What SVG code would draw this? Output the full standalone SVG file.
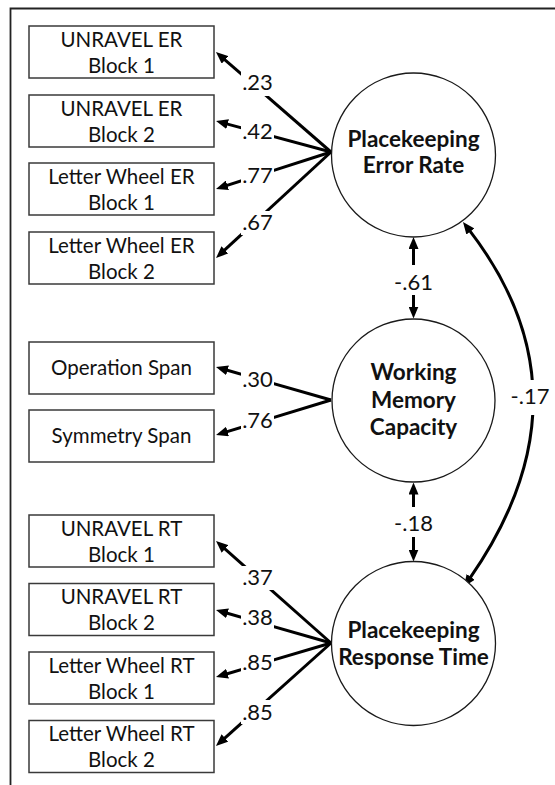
<svg xmlns="http://www.w3.org/2000/svg" width="555" height="785" viewBox="0 0 555 785">
<style>
.box{fill:#fff;stroke:#3a3a3a;stroke-width:1.5}
.lat{fill:#fff;stroke:#1a1a1a;stroke-width:1.3}
.bt{font-family:Lato,"Open Sans","Liberation Sans",sans-serif;font-size:20.5px;fill:#111;text-anchor:middle}
.ct{font-family:Lato,"Open Sans","Liberation Sans",sans-serif;font-size:22.5px;font-weight:bold;fill:#111;text-anchor:middle}
.lb{font-family:Lato,"Open Sans","Liberation Sans",sans-serif;font-size:22px;fill:#111;text-anchor:middle}
.ln{stroke:#000;stroke-width:3;fill:none}
.one{marker-end:url(#ah)}
.two{marker-start:url(#ah);marker-end:url(#ah)}
.bg{fill:#fff;stroke:none}
</style>
<defs>
<marker id="ah" viewBox="0 0 12 10" refX="2" refY="5" markerWidth="12" markerHeight="10" markerUnits="userSpaceOnUse" orient="auto-start-reverse">
<path d="M0,0 L12,5 L0,10 z" fill="#000"/>
</marker>
</defs>
<rect width="555" height="785" fill="#fff"/>
<path d="M10.5,785 V8.5 H555" fill="none" stroke="#222" stroke-width="1.8"/>

<g id="connectors">
<line class="ln one" x1="331" y1="152" x2="223.5" y2="58.6"/>
<line class="ln one" x1="331" y1="152" x2="225.7" y2="123.6"/>
<line class="ln one" x1="331" y1="152" x2="225.5" y2="185.9"/>
<line class="ln one" x1="331" y1="152" x2="223.4" y2="251.2"/>
<line class="ln one" x1="331" y1="400" x2="225.6" y2="369.8"/>
<line class="ln one" x1="331" y1="400" x2="225.6" y2="432.1"/>
<line class="ln one" x1="331" y1="643" x2="223.5" y2="547.6"/>
<line class="ln one" x1="331" y1="643" x2="225.6" y2="612.8"/>
<line class="ln one" x1="331" y1="643" x2="225.6" y2="674.2"/>
<line class="ln one" x1="331" y1="643" x2="223.4" y2="739.3"/>
<line class="ln two" x1="413.5" y1="247" x2="413.5" y2="308.5"/>
<line class="ln two" x1="413.5" y1="492.5" x2="413.5" y2="551.5"/>
<path class="ln two" d="M469.1,229.9 Q597,395.5 469.6,578.6"/>
<rect class="bg" x="241" y="71" width="33" height="25"/>
<text class="lb" x="257.5" y="90">.23</text>
<rect class="bg" x="241" y="120" width="33" height="24"/>
<text class="lb" x="257.5" y="139">.42</text>
<rect class="bg" x="241" y="164" width="33" height="24"/>
<text class="lb" x="257.5" y="183">.77</text>
<rect class="bg" x="241" y="211" width="33" height="24"/>
<text class="lb" x="257.5" y="230">.67</text>
<rect class="bg" x="241" y="368" width="33" height="24"/>
<text class="lb" x="257.5" y="387">.30</text>
<rect class="bg" x="241" y="409" width="33" height="24"/>
<text class="lb" x="257.5" y="428">.76</text>
<rect class="bg" x="241" y="566" width="33" height="24"/>
<text class="lb" x="257.5" y="585">.37</text>
<rect class="bg" x="241" y="606" width="33" height="24"/>
<text class="lb" x="257.5" y="625">.38</text>
<rect class="bg" x="241" y="651" width="33" height="24"/>
<text class="lb" x="257.5" y="670">.85</text>
<rect class="bg" x="241" y="700" width="33" height="24"/>
<text class="lb" x="257.5" y="719.5">.85</text>
<rect class="bg" x="393" y="265" width="41" height="30"/>
<text class="lb" x="413.5" y="289.5">-.61</text>
<rect class="bg" x="393" y="507" width="41" height="30"/>
<text class="lb" x="413.5" y="531">-.18</text>
<rect class="bg" x="510" y="380" width="40" height="35"/>
<text class="lb" x="530" y="403.5">-.17</text>
</g>

<g id="ur1"><rect class="box" x="29" y="26" width="185" height="52"/><text class="bt" x="121.5" y="46.5">UNRAVEL ER</text><text class="bt" x="121.5" y="72.5">Block 1</text></g>
<g id="ur2"><rect class="box" x="29" y="95" width="185" height="52"/><text class="bt" x="121.5" y="115.5">UNRAVEL ER</text><text class="bt" x="121.5" y="141.5">Block 2</text></g>
<g id="lw1"><rect class="box" x="29" y="163" width="185" height="52"/><text class="bt" x="121.5" y="183.5">Letter Wheel ER</text><text class="bt" x="121.5" y="209.5">Block 1</text></g>
<g id="lw2"><rect class="box" x="29" y="232" width="185" height="52"/><text class="bt" x="121.5" y="252.5">Letter Wheel ER</text><text class="bt" x="121.5" y="278.5">Block 2</text></g>
<g id="ospan"><rect class="box" x="29" y="342" width="185" height="52"/><text class="bt" x="121.5" y="375">Operation Span</text></g>
<g id="sspan"><rect class="box" x="29" y="410" width="185" height="52"/><text class="bt" x="121.5" y="443">Symmetry Span</text></g>
<g id="urt1"><rect class="box" x="29" y="515" width="185" height="52"/><text class="bt" x="121.5" y="535.5">UNRAVEL RT</text><text class="bt" x="121.5" y="561.5">Block 1</text></g>
<g id="urt2"><rect class="box" x="29" y="583.5" width="185" height="52"/><text class="bt" x="121.5" y="604">UNRAVEL RT</text><text class="bt" x="121.5" y="630">Block 2</text></g>
<g id="lwrt1"><rect class="box" x="29" y="652" width="185" height="52"/><text class="bt" x="121.5" y="672.5">Letter Wheel RT</text><text class="bt" x="121.5" y="698.5">Block 1</text></g>
<g id="lwrt2"><rect class="box" x="29" y="720.5" width="185" height="52"/><text class="bt" x="121.5" y="741">Letter Wheel RT</text><text class="bt" x="121.5" y="767">Block 2</text></g>

<g id="per"><circle class="lat" cx="413.5" cy="155" r="82"/><text class="ct" x="413.5" y="147">Placekeeping</text><text class="ct" x="413.5" y="173">Error Rate</text></g>
<g id="wmc"><circle class="lat" cx="413.5" cy="400.5" r="81.5"/><text class="ct" x="413.5" y="380">Working</text><text class="ct" x="413.5" y="407.5">Memory</text><text class="ct" x="413.5" y="435">Capacity</text></g>
<g id="prt"><circle class="lat" cx="413.5" cy="643.5" r="82"/><text class="ct" x="413.5" y="638">Placekeeping</text><text class="ct" x="413.5" y="665">Response Time</text></g>
</svg>
